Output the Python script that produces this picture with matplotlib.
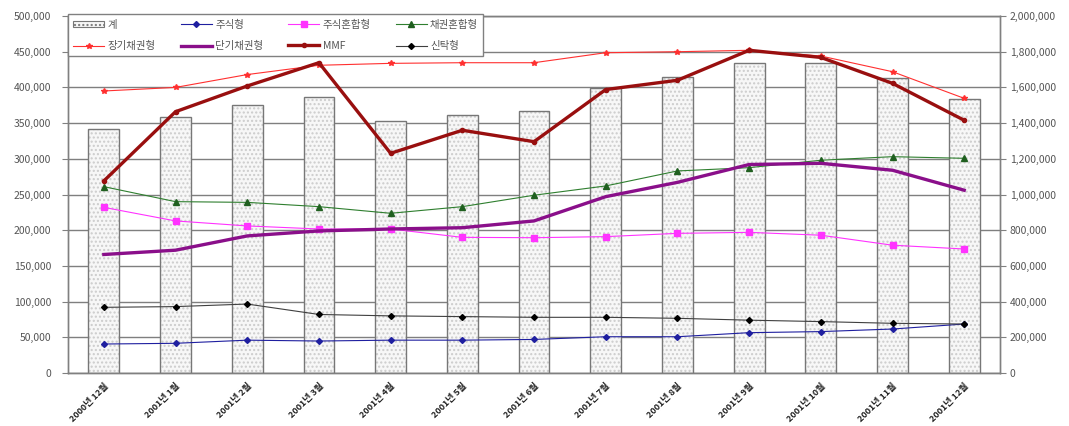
import matplotlib
matplotlib.use("Agg")
import matplotlib.pyplot as plt
import matplotlib.transforms as mtransforms
from matplotlib.ticker import FuncFormatter, MultipleLocator
from matplotlib.patches import Patch
import numpy as np

plt.rcParams['font.family'] = ['Noto Sans CJK KR', 'DejaVu Sans']

months = ['2000년 12월', '2001년 1월', '2001년 2월', '2001년 3월', '2001년 4월',
          '2001년 5월', '2001년 6월', '2001년 7월', '2001년 8월', '2001년 9월',
          '2001년 10월', '2001년 11월', '2001년 12월']

# total (right axis)
total = [1367000, 1432000, 1503000, 1544000, 1412000, 1445000, 1468000,
         1595000, 1660000, 1738000, 1738000, 1651000, 1536000]

# fund types (left axis)
equity = [40600, 41600, 46000, 44800, 46000, 46000, 47000,
          50800, 50800, 56500, 58000, 61600, 68600]
equity_mixed = [232000, 213000, 206000, 201700, 201700, 190000, 189500,
                191000, 195600, 197000, 193000, 179000, 173700]
bond_mixed = [261000, 240000, 239000, 233000, 223700, 233000, 249000,
              262000, 283000, 287600, 298000, 303000, 300700]
long_bond = [395000, 400000, 418000, 431000, 433700, 434600, 434600,
             448600, 450000, 452000, 444000, 422000, 384700]
short_bond = [166000, 172000, 192000, 199000, 201700, 203500, 213000,
              247000, 267000, 292000, 293700, 284000, 256000]
mmf = [269000, 366000, 402000, 434600, 307700, 340000, 324000,
       397000, 410000, 452000, 442000, 405700, 354000]
trust = [92000, 93000, 96600, 82000, 80000, 79000, 78000,
         78000, 76600, 74000, 72000, 69600, 68600]

legend_labels = ['계', '장기채권형', '주식형', '단기채권형',
                 '주식혼합형', 'MMF', '채권혼합형', '신탁형']

fig = plt.figure(figsize=(10.69, 4.26), dpi=100)
ax_bar = fig.add_axes([0.0636, 0.1244, 0.8719, 0.838])
ax_ln = ax_bar.twinx()

x = np.arange(len(months))
grid_c = '#7f7f7f'

# bars for the total, on the right-hand scale
ax_bar.bar(x, total, width=0.43, color='#f7f7f7', edgecolor='#cccccc',
           hatch='....', linewidth=0, zorder=2)
ax_bar.bar(x, total, width=0.43, fill=False, edgecolor='#777777',
           linewidth=1.0, zorder=3)
ax_bar.set_ylim(0, 2000000)
ax_bar.yaxis.set_major_locator(MultipleLocator(200000))
ax_bar.grid(axis='y', color=grid_c, linewidth=1.0, zorder=0)
ax_bar.set_axisbelow(True)
ax_bar.yaxis.tick_right()
ax_bar.yaxis.set_label_position('right')

fmt = FuncFormatter(lambda v, p: '0' if v == 0 else f'{int(v):,}')
ax_bar.yaxis.set_major_formatter(fmt)

# fund lines, on the left-hand scale
l_eq, = ax_ln.plot(x, equity, color='#1f1fa0', lw=0.8, marker='D', ms=3)
l_em, = ax_ln.plot(x, equity_mixed, color='#ff33ff', lw=0.8, marker='s', ms=4)
l_bm, = ax_ln.plot(x, bond_mixed, color='#2f7f2f', lw=0.8, marker='^', ms=4,
                   mfc='#1f5f1f', mec='#1f5f1f')
l_lb, = ax_ln.plot(x, long_bond, color='#ff3030', lw=0.8, marker='*', ms=4)
l_sb, = ax_ln.plot(x, short_bond, color='#8a0f8a', lw=2.4)
l_mm, = ax_ln.plot(x, mmf, color='#990f0f', lw=2.4, marker='o', ms=3)
l_tr, = ax_ln.plot(x, trust, color='#404040', lw=0.8, marker='D', ms=3,
                   mfc='black', mec='black')
ax_ln.set_ylim(0, 500000)
ax_ln.yaxis.set_major_locator(MultipleLocator(50000))
ax_ln.yaxis.tick_left()
ax_ln.yaxis.set_major_formatter(fmt)

ax_bar.set_xlim(-0.5, len(months) - 0.5)
ax_bar.set_xticks(x)
ax_bar.set_xticklabels(months, rotation=45, ha='right', va='top',
                       rotation_mode='anchor', fontsize=6.5, fontweight='bold',
                       color='#222222')
offset = mtransforms.ScaledTranslation(-18 / 100, 0, fig.dpi_scale_trans)
for lab in ax_bar.get_xticklabels():
    lab.set_transform(lab.get_transform() + offset)
ax_bar.tick_params(axis='x', length=0, pad=6)

for a in (ax_bar, ax_ln):
    for s in a.spines.values():
        s.set_color('#808080')
        s.set_linewidth(1.0)
ax_bar.tick_params(axis='y', labelsize=7.5, colors='#808080', labelcolor='#555555',
                   length=4, pad=3)
ax_ln.tick_params(axis='y', labelsize=7.5, colors='#808080', labelcolor='#555555',
                  length=4, pad=8)

# legend
bar_handle = Patch(facecolor='#f7f7f7', edgecolor='#777777', hatch='....', lw=0.8)
handles = [bar_handle, l_lb, l_eq, l_sb, l_em, l_mm, l_bm, l_tr]
leg = ax_ln.legend(handles, legend_labels, ncol=4, loc='upper left',
                   bbox_to_anchor=(0.0, 1.005), borderaxespad=0,
                   fontsize=7.5, frameon=True,
                   fancybox=False, edgecolor='#808080', framealpha=1,
                   handlelength=3.0, handleheight=0.6, columnspacing=2.4,
                   labelspacing=1.1, borderpad=0.5, handletextpad=0.3)
leg.get_frame().set_linewidth(1.0)
for t in leg.get_texts():
    t.set_color('#555555')

fig.savefig('out.png', dpi=100)
